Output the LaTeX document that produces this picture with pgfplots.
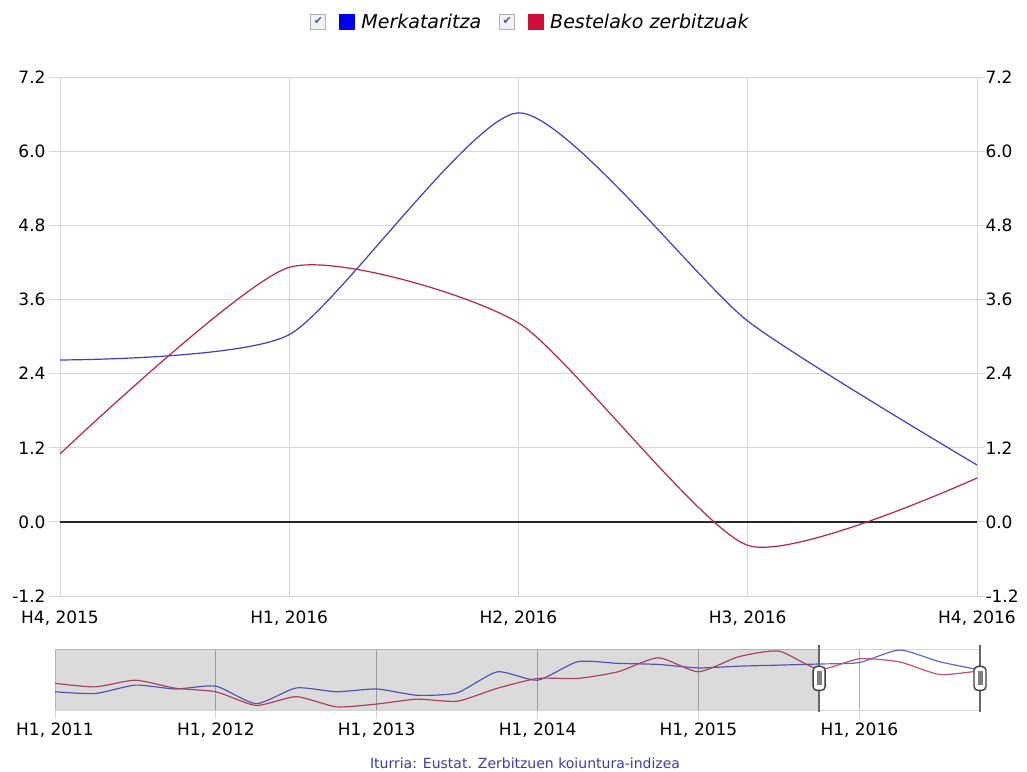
\documentclass[border=0pt]{standalone}
\usepackage{pgfplots}
\pgfplotsset{compat=1.18}
\usepackage{pgfplotstable}
\usepackage{fontspec}
\setmainfont{DejaVu Sans}
\newfontfamily\symfont{DejaVu Sans}

\definecolor{mblue}{RGB}{60,60,205}
\definecolor{mred}{RGB}{185,35,75}
\definecolor{legblue}{RGB}{0,0,235}
\definecolor{legred}{RGB}{205,15,55}
\definecolor{gridc}{RGB}{212,212,212}
\definecolor{srcblue}{RGB}{60,60,170}
\definecolor{chkc}{RGB}{75,90,160}

\pgfplotstableread{
x blue red
0 -5.3 -2.9
1 -5.8 -3.9
2 -3.4 -2.0
3 -4.5 -4.3
4 -3.7 -5.3
5 -8.7 -9.2
6 -4.2 -6.7
7 -5.3 -9.6
8 -4.5 -8.8
9 -6.3 -7.4
10 -5.6 -8.0
11 0.4 -4.3
12 -2.0 -1.5
13 3.3 -1.5
14 2.8 0.4
15 2.5 4.4
16 1.5 0.4
17 2.0 4.7
18 2.3 6.3
19 2.62 1.1
20 3.03 4.12
21 6.62 3.22
22 3.25 -0.38
23 0.92 0.71
}\navdata

\pgfplotstableread{
x blue red
19 2.62 1.10
20 3.03 4.12
21 6.62 3.22
22 3.25 -0.38
23 0.92 0.71
}\maindata

\begin{document}
\begin{tikzpicture}[font=\fontsize{17bp}{20bp}\selectfont]
\path[use as bounding box] (0,0) rectangle (1027bp,772bp);

\begin{axis}[
  at={(60bp,176bp)}, anchor=south west, scale only axis,
  width=917bp, height=519bp,
  xmin=19, xmax=23, ymin=-1.2, ymax=7.2,
  xtick={19,20,21,22,23},
  xticklabels={{H4, 2015},{H1, 2016},{H2, 2016},{H3, 2016},{H4, 2016}},
  ytick={-1.2,0,1.2,2.4,3.6,4.8,6.0,7.2},
  grid=major, major grid style={gridc, line width=0.8bp},
  axis line style={draw=none},
  tick align=outside, ytick pos=left, xtick pos=bottom,
  xtick style={draw=none},
  ytick style={gridc, line width=0.8bp},
  major tick length=11bp,
  yticklabel style={/pgf/number format/.cd, fixed, fixed zerofill, precision=1},
  /pgf/number format/assume math mode=true,
  legend columns=2,
  legend style={at={(0.5,1)}, anchor=center, yshift=55bp, xshift=12bp,
    draw=none, fill=none, font=\itshape\fontsize{19bp}{22bp}\selectfont,
    /tikz/every even column/.append style={column sep=16bp}},
]
\addplot[black!85, line width=1.6bp, forget plot] coordinates {(19,0) (23,0)};
\addplot[mblue, line width=1.2bp, smooth, tension=0.36,
  legend image code/.code={
    \draw[gray!60, line width=0.8bp, fill=blue!5!gray!10] (0bp,-7.5bp) rectangle (15bp,7.5bp);
    \node[text=chkc, inner sep=0pt, font=\symfont\fontsize{11bp}{11bp}\selectfont] at (7.5bp,0bp) {✔};
    \fill[legblue] (29bp,-7.5bp) rectangle (44bp,7.5bp);
    \path (48bp,0bp);
  }] table[x=x, y=blue] {\maindata};
\addlegendentry{Merkataritza}
\addplot[mred, line width=1.2bp, smooth, tension=0.36,
  legend image code/.code={
    \draw[gray!60, line width=0.8bp, fill=blue!5!gray!10] (0bp,-7.5bp) rectangle (15bp,7.5bp);
    \node[text=chkc, inner sep=0pt, font=\symfont\fontsize{11bp}{11bp}\selectfont] at (7.5bp,0bp) {✔};
    \fill[legred] (29bp,-7.5bp) rectangle (44bp,7.5bp);
    \path (48bp,0bp);
  }] table[x=x, y=red] {\maindata};
\addlegendentry{Bestelako zerbitzuak}
\end{axis}

% right-hand labels
\begin{axis}[
  at={(60bp,176bp)}, anchor=south west, scale only axis,
  width=917bp, height=519bp,
  xmin=19, xmax=23, ymin=-1.2, ymax=7.2,
  xtick=\empty,
  ytick={-1.2,0,1.2,2.4,3.6,4.8,6.0,7.2},
  axis line style={draw=none},
  tick align=outside, ytick pos=right, yticklabel pos=right,
  ytick style={gridc, line width=0.8bp},
  major tick length=8bp,
  yticklabel style={xshift=-3bp, /pgf/number format/.cd, fixed, fixed zerofill, precision=1},
  /pgf/number format/assume math mode=true,
]
\end{axis}

% navigator
\begin{axis}[
  at={(55bp,62bp)}, anchor=south west, scale only axis,
  width=925bp, height=61bp,
  xmin=0, xmax=23, ymin=-10.5, ymax=6.9,
  xtick={0,4,8,12,16,20},
  xticklabels={{H1, 2011},{H1, 2012},{H1, 2013},{H1, 2014},{H1, 2015},{H1, 2016}},
  ytick=\empty,
  xmajorgrids, major grid style={gridc!85!black, line width=0.8bp},
  tick align=outside, xtick pos=bottom,
  major tick length=9bp,
  xtick style={gridc, line width=0.8bp},
  axis line style={gridc, line width=0.8bp},
  clip=false,
]
\addplot[mblue!80, line width=1.2bp, smooth, tension=0.36] table[x=x, y=blue] {\navdata};
\addplot[mred!80, line width=1.2bp, smooth, tension=0.36] table[x=x, y=red] {\navdata};
\fill[black, fill opacity=0.14] (axis cs:0,-10.5) rectangle (axis cs:19,6.9);
\draw[black!60, line width=2.2bp] ([yshift=-2bp]axis cs:19,-10.5) -- ([yshift=4bp]axis cs:19,6.9);
\draw[black!60, line width=2.2bp] ([yshift=-2bp]axis cs:23,-10.5) -- ([yshift=4bp]axis cs:23,6.9);
\draw[black!75, line width=1.4bp, fill=white, rounded corners=4bp]
    ([xshift=-6bp, yshift=-12bp]axis cs:19,-1.5) rectangle ([xshift=6bp, yshift=12bp]axis cs:19,-1.5);
\fill[black!50] ([xshift=-2.5bp, yshift=-7bp]axis cs:19,-1.5) rectangle ([xshift=2.5bp, yshift=7bp]axis cs:19,-1.5);
\draw[black!75, line width=1.4bp, fill=white, rounded corners=4bp]
    ([xshift=-6bp, yshift=-12bp]axis cs:23,-1.5) rectangle ([xshift=6bp, yshift=12bp]axis cs:23,-1.5);
\fill[black!50] ([xshift=-2.5bp, yshift=-7bp]axis cs:23,-1.5) rectangle ([xshift=2.5bp, yshift=7bp]axis cs:23,-1.5);
\end{axis}

\node[text=srcblue, font=\fontsize{14bp}{16bp}\selectfont] at (525bp,9bp) {Iturria: Eustat. Zerbitzuen koiuntura-indizea};
\end{tikzpicture}
\end{document}
